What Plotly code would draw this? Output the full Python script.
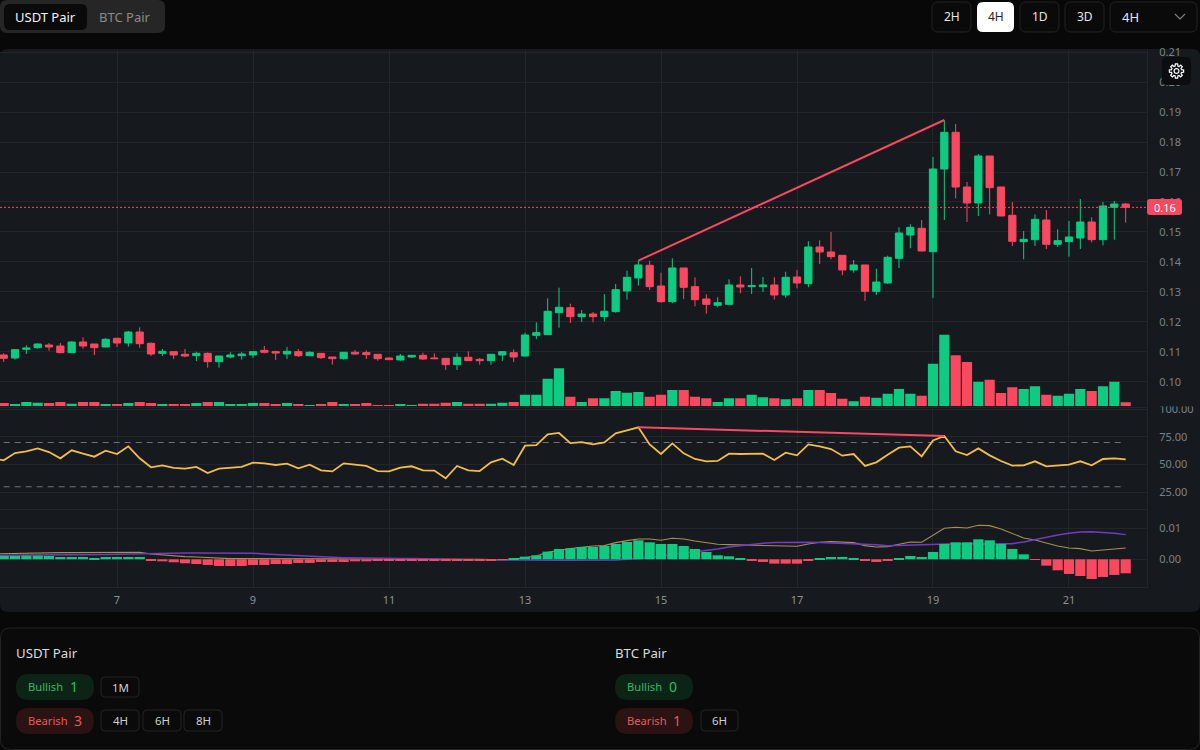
import math

import pandas as pd
import plotly.graph_objects as go
from plotly.subplots import make_subplots


# Velas de 4H: la primera vela visible es la del dia 5 a las 08:00.
OPENS = [
    .10892, .10791, .11081, .11136, .11225, .11192, .10970, .11326, .11259, .11159,
    .11448, .11292, .11659, .11281, .10947, .11003, .10914, .10869, .10947, .10669,
    .10825, .10869, .10892, .11047, .11003, .10925, .11003, .10869, .10947, .10825,
    .10769, .10981, .10970, .10914, .10791, .10725, .10825, .10880, .10791, .10780,
    .10569, .10814, .10747, .10702, .10891, .10969, .10858, .11548, .11570, .12305,
    .12472, .12171, .12260, .12171, .12339, .13029, .13463, .13886, .13196, .12672,
    .13796, .13173, .12762, .12550, .12583, .13229, .13173, .13173, .13229, .12895,
    .13496, .13273, .14498, .14331, .14219, .13730, .13897, .13017, .13296, .14119,
    .14898, .15121, .14342, .17102, .18326, .16501, .15967, .17536, .16501, .15555,
    .14676, .14742, .15399, .14587, .14676, .14798, .15332, .14742, .15822, .15933,
]
CLOSES = [
    .10780, .11070, .11125, .11259, .11159, .10970, .11326, .11192, .11136, .11415,
    .11292, .11659, .11270, .10925, .11014, .10892, .10858, .10947, .10669, .10858,
    .10892, .10925, .11003, .10981, .10958, .11014, .10869, .10981, .10803, .10769,
    .10981, .10925, .10903, .10769, .10736, .10858, .10880, .10758, .10769, .10569,
    .10814, .10702, .10702, .10914, .11003, .10825, .11559, .11637, .12350, .12483,
    .12171, .12260, .12171, .12350, .13073, .13485, .13897, .13173, .12672, .13796,
    .13151, .12739, .12583, .12639, .13229, .13162, .13207, .13229, .12895, .13485,
    .13296, .14498, .14331, .14175, .13730, .13897, .13017, .13329, .14153, .14965,
    .15154, .14364, .17102, .18326, .16501, .15967, .17536, .16479, .15533, .14687,
    .14754, .15421, .14587, .14709, .14832, .15332, .14742, .15867, .15933, .15822,
]
HIGHS = [
    .10947, .11092, .11214, .11281, .11292, .11292, .11348, .11481, .11259, .11459,
    .11470, .11693, .11815, .11315, .11092, .11003, .11092, .11003, .10981, .10858,
    .10981, .10992, .11025, .11192, .11036, .11159, .11092, .11014, .10947, .10825,
    .10992, .11058, .11047, .10925, .10814, .10925, .10880, .10969, .10947, .10780,
    .10947, .11014, .10791, .10925, .11025, .11081, .11637, .11982, .12784, .13140,
    .12605, .12394, .12327, .12917, .13262, .13707, .14041, .14041, .13641, .14119,
    .13796, .13485, .12917, .12817, .13418, .13518, .13796, .13496, .13485, .13674,
    .13730, .14687, .14720, .14998, .14219, .14063, .13897, .13774, .14208, .15154,
    .15254, .15399, .17503, .18738, .18605, .16668, .17603, .17536, .16501, .16000,
    .15032, .15588, .15733, .15088, .15366, .16100, .15488, .16000, .16033, .15967,
]
LOWS = [
    .10658, .10736, .10925, .11103, .11036, .10947, .10958, .11103, .10892, .11147,
    .11159, .11170, .11136, .10858, .10858, .10758, .10814, .10691, .10469, .10469,
    .10780, .10736, .10791, .10947, .10725, .10758, .10825, .10847, .10758, .10569,
    .10736, .10903, .10758, .10702, .10725, .10702, .10791, .10725, .10758, .10391,
    .10391, .10691, .10569, .10569, .10691, .10658, .10836, .11426, .11559, .11804,
    .11960, .11993, .11982, .12016, .12305, .12739, .13207, .13062, .12639, .12617,
    .12762, .12517, .12271, .12483, .12572, .12950, .12928, .12995, .12739, .12806,
    .13117, .13151, .13930, .14086, .13552, .13641, .12695, .12895, .13262, .13796,
    .14453, .14364, .12795, .15399, .16122, .15332, .15533, .15588, .15522, .14531,
    .14086, .14531, .14431, .14498, .14175, .14431, .14653, .14553, .14742, .15310,
]
VOLUMES = [
    3, 2, 4, 3.3, 3, 4, 2.3, 4, 4, 2,
    2, 3, 4, 3, 2, 2, 2, 3, 4, 4,
    2, 2, 3, 3, 2, 3, 2, 1, 2, 4,
    2, 2, 3, 1, 1, 2, 1, 2.3, 2.3, 3.3,
    4, 2.3, 2.3, 2.3, 3.3, 4, 11.3, 11.3, 27.3, 37.7,
    9.3, 4, 7.7, 7.7, 15, 13.3, 14, 9.3, 11.3, 16,
    16, 9.3, 7.7, 4, 7.7, 7.7, 11.3, 8.7, 7.7, 6.7,
    7.7, 16, 16, 13, 7.3, 4.7, 9.3, 8.3, 12.3, 17,
    12.3, 10.3, 42.3, 71.3, 50.7, 44, 24.3, 26.3, 13, 18.7,
    17, 19.7, 11.3, 10.3, 12.3, 17, 15, 19.7, 24.3, 3.7,
]
HISTOGRAM = [
    .00108, .00108, .00118, .00118, .00108, .00075, .00075, .00075, .00043, .00075,
    .00075, .00075, .00075, -.00032, -.00065, -.00097, -.00129, -.00151, -.00183, -.00215,
    -.00215, -.00215, -.00183, -.00183, -.00151, -.00151, -.00118, -.00118, -.00086, -.00086,
    -.00086, -.00065, -.00065, -.00054, -.00054, -.00043, -.00043, -.00043, -.00043, -.00043,
    -.00043, -.00043, -.00043, -.00032, -.00022, .00043, .00086, .00129, .00247, .00333,
    .00355, .00398, .00398, .00430, .00495, .00559, .00613, .00548, .00495, .00495,
    .00430, .00333, .00237, .00129, .00097, .00043, -.00054, -.00086, -.00140, -.00140,
    -.00140, -.00054, .00043, .00075, .00075, .00043, -.00054, -.00086, -.00054, .00043,
    .00108, .00075, .00237, .00495, .00548, .00548, .00645, .00613, .00495, .00333,
    .00161, -.00011, -.00204, -.00355, -.00473, -.00538, -.00634, -.00570, -.00505, -.00452,
]

# Estas series traen un punto mas: empiezan una vela antes, fuera de la vista.
RSI_VALUES = [
    56.0,
    53.9, 60.5, 62.0, 64.7, 61.4, 55.7, 62.9, 59.9, 57.2, 62.6,
    59.6, 66.5, 55.7, 47.6, 49.4, 47.0, 46.4, 47.9, 42.4, 46.4,
    47.0, 47.9, 51.8, 51.2, 49.7, 50.9, 46.7, 50.0, 44.9, 43.9,
    51.2, 50.3, 48.8, 44.2, 43.9, 47.3, 48.5, 44.9, 44.6, 37.6,
    48.8, 44.9, 44.2, 52.1, 55.4, 49.7, 67.1, 67.7, 77.4, 78.6,
    69.5, 70.4, 68.3, 70.1, 78.3, 81.0, 83.7, 68.3, 59.6, 69.2,
    60.2, 55.1, 53.0, 53.3, 59.9, 59.6, 59.6, 59.9, 54.2, 60.8,
    58.4, 68.3, 66.5, 64.1, 58.1, 59.6, 48.8, 52.1, 59.0, 65.3,
    66.5, 57.5, 71.9, 75.9, 62.0, 58.7, 64.7, 58.4, 53.3, 49.1,
    49.4, 53.0, 48.5, 49.1, 50.0, 53.0, 49.4, 55.1, 55.7, 54.8,
]
MACD_VALUES = [
    .00172,
    .00183, .00194, .00204, .00215, .00215, .00215, .00215, .00215, .00215, .00215,
    .00226, .00237, .00226, .00172, .00140, .00108, .00086, .00075, .00054, .00032,
    .00022, .00022, .00022, .00022, .00022, .00022, .00022, .00022, .00022, .00022,
    .00022, .00011, .00011, .00011, .00011, .00011, .00011, .00011, .00011, 0,
    0, 0, 0, -.00011, -.00022, 0, .00054, .00108, .00226, .00290,
    .00344, .00387, .00430, .00441, .00538, .00602, .00656, .00656, .00613, .00677,
    .00656, .00591, .00538, .00484, .00473, .00462, .00452, .00441, .00419, .00419,
    .00419, .00495, .00548, .00570, .00548, .00538, .00441, .00398, .00409, .00495,
    .00559, .00548, .00774, .01000, .01032, .01011, .01097, .01086, .00978, .00839,
    .00688, .00624, .00516, .00430, .00366, .00344, .00269, .00301, .00355, .00366,
]
SIGNAL_VALUES = [
    .00129,
    .00129, .00129, .00129, .00129, .00129, .00140, .00140, .00140, .00151, .00151,
    .00161, .00172, .00183, .00194, .00204, .00204, .00204, .00204, .00204, .00204,
    .00204, .00204, .00194, .00172, .00151, .00129, .00108, .00097, .00086, .00065,
    .00054, .00043, .00032, .00032, .00022, .00022, .00022, .00011, .00011, 0,
    0, -.00011, -.00011, -.00022, -.00022, -.00022, -.00022, -.00032, -.00032, -.00032,
    -.00032, -.00032, -.00032, -.00032, -.00022, 0, .00022, .00054, .00108, .00151,
    .00194, .00237, .00280, .00333, .00398, .00441, .00484, .00516, .00538, .00548,
    .00548, .00548, .00538, .00527, .00516, .00505, .00495, .00473, .00441, .00452,
    .00462, .00484, .00505, .00505, .00505, .00505, .00495, .00495, .00505, .00505,
    .00559, .00634, .00731, .00785, .00839, .00881, .00892, .00871, .00839, .00796,
]

# Divergencias: indices de las velas que une cada linea.
DIVERGENCE_CANDLES = [56, 83]

RSI_BANDS = [70, 30]
LAST_PRICE = 0.1582

PRICE_TICKS = [.10, .11, .12, .13, .14, .15, .16, .17, .18, .19, .20, .21]
RSI_TICKS = [25, 50, 75, 100]
MACD_TICKS = [0, .01]
DAY_TICKS = ["2025-01-07", "2025-01-09", "2025-01-11", "2025-01-13",
             "2025-01-15", "2025-01-17", "2025-01-19", "2025-01-21"]
DAY_LABELS = ["7", "9", "11", "13", "15", "17", "19", "21"]

# Definimos los colores.
PAGE_COLOR = "#080808"
CARD_COLOR = "#161a1f"
PANEL_COLOR = "#0a0a0a"
BORDER_COLOR = "#232323"
GRID_COLOR = "#22262c"
TICK_COLOR = "#7b8188"
GREEN = "#0ecb81"
RED = "#f84960"
GOLD = "#f2bd4c"

WIDTH = 1200
HEIGHT = 750
AXIS_RIGHT = 1147


def px(x):
    return x / WIDTH


def py(y):
    return 1 - y / HEIGHT


def domain(top, bottom):
    return [py(bottom), py(top)]


def round_rect(x0, y0, x1, y1, r, fill, line="rgba(0,0,0,0)", layer="above"):
    # Rectangulo redondeado en pixeles de la pagina.
    path = (
        f"M {px(x0 + r)} {py(y0)} L {px(x1 - r)} {py(y0)} "
        f"Q {px(x1)} {py(y0)} {px(x1)} {py(y0 + r)} L {px(x1)} {py(y1 - r)} "
        f"Q {px(x1)} {py(y1)} {px(x1 - r)} {py(y1)} L {px(x0 + r)} {py(y1)} "
        f"Q {px(x0)} {py(y1)} {px(x0)} {py(y1 - r)} L {px(x0)} {py(y0 + r)} "
        f"Q {px(x0)} {py(y0)} {px(x0 + r)} {py(y0)} Z"
    )
    return dict(type="path", path=path, xref="paper", yref="paper", fillcolor=fill,
                line=dict(color=line, width=1), layer=layer)


def gear(cx, cy):
    # Icono de ajustes, dibujado con un poligono de 8 dientes.
    puntos = []
    for k in range(8):
        centro = k * math.pi / 4
        for da, r in [(-0.27, 5.2), (-0.16, 7.2), (0.16, 7.2), (0.27, 5.2)]:
            a = centro + da
            puntos.append((cx + r * math.cos(a), cy + r * math.sin(a)))
    path = "M " + " L ".join(f"{px(x)} {py(y)}" for x, y in puntos) + " Z "
    circulo = [(cx + 2.4 * math.cos(k * math.pi / 8), cy + 2.4 * math.sin(k * math.pi / 8))
               for k in range(16)]
    path += "M " + " L ".join(f"{px(x)} {py(y)}" for x, y in circulo) + " Z"
    return dict(type="path", path=path, xref="paper", yref="paper",
                line=dict(color="#ffffff", width=1.2), layer="above")


def label(x, y, text, size=12, color="#d8d8d8", anchor="center"):
    return dict(x=px(x), y=py(y), xref="paper", yref="paper", text=text, showarrow=False,
                xanchor=anchor, yanchor="middle", font=dict(size=size, color=color))


line_times = pd.date_range("2025-01-05 04:00", periods=len(RSI_VALUES), freq="4h")
times = line_times[1:]

volume_colors = [GREEN if c >= o else RED for o, c in zip(OPENS, CLOSES)]
histogram_colors = [GREEN if v >= 0 else RED for v in HISTOGRAM]

fig = make_subplots(
    rows=3, cols=1,
    shared_xaxes=True,
    vertical_spacing=0,
    specs=[[{"secondary_y": True}], [{}], [{"secondary_y": True}]]
)

fig.add_trace(
    go.Candlestick(
        x=times, open=OPENS, high=HIGHS, low=LOWS, close=CLOSES,
        increasing=dict(line=dict(color=GREEN, width=1), fillcolor=GREEN),
        decreasing=dict(line=dict(color=RED, width=1), fillcolor=RED),
        whiskerwidth=0
    ), row=1, col=1
)

fig.add_trace(
    go.Scatter(
        x=[times[i] for i in DIVERGENCE_CANDLES],
        y=[HIGHS[i] for i in DIVERGENCE_CANDLES],
        mode="lines", line=dict(color=RED, width=2)
    ), row=1, col=1
)

fig.add_trace(
    go.Bar(x=times, y=VOLUMES, marker=dict(color=volume_colors, line_width=0)),
    row=1, col=1, secondary_y=True
)

for banda in RSI_BANDS:
    fig.add_trace(
        go.Scatter(
            x=[times[0], times[-1]], y=[banda, banda], mode="lines",
            line=dict(color="#6e737b", width=1.2, dash="6px,5px")
        ), row=2, col=1
    )

fig.add_trace(
    go.Scatter(x=line_times, y=RSI_VALUES, mode="lines", line=dict(color=GOLD, width=1.8)),
    row=2, col=1
)

fig.add_trace(
    go.Scatter(
        x=[times[i] for i in DIVERGENCE_CANDLES],
        y=[RSI_VALUES[i + 1] for i in DIVERGENCE_CANDLES],
        mode="lines", line=dict(color=RED, width=2)
    ), row=2, col=1
)

fig.add_trace(
    go.Scatter(x=line_times, y=MACD_VALUES, mode="lines", line=dict(color="#a98f50", width=1.1)),
    row=3, col=1
)

fig.add_trace(
    go.Scatter(x=line_times, y=SIGNAL_VALUES, mode="lines", line=dict(color="#6f3cc3", width=1.5)),
    row=3, col=1
)

fig.add_trace(
    go.Bar(x=times, y=HISTOGRAM, marker=dict(color=histogram_colors, line_width=0)),
    row=3, col=1, secondary_y=True
)

fig.update_xaxes(
    domain=[0, px(AXIS_RIGHT)],
    range=["2025-01-05 06:42", "2025-01-22 03:32"],
    rangeslider_visible=False,
    tickvals=DAY_TICKS,
    ticktext=DAY_LABELS,
    gridcolor=GRID_COLOR,
    showline=True,
    linecolor=GRID_COLOR,
    zeroline=False,
    ticks="outside",
    ticklen=3,
    tickcolor="rgba(0,0,0,0)",
    tickfont=dict(size=11, color="#8b9097")
)

ejes_y = dict(
    side="right",
    gridcolor=GRID_COLOR,
    showline=True,
    linecolor=GRID_COLOR,
    zeroline=False,
    ticks="outside",
    ticklen=9,
    tickcolor="rgba(0,0,0,0)",
    tickformat=".2f",
    tickfont=dict(size=11, color=TICK_COLOR)
)

fig.update_layout(
    yaxis=dict(domain=domain(50, 406.7), range=[.09165, .21075], tickvals=PRICE_TICKS, **ejes_y),
    yaxis2=dict(range=[-0.7, 356.0], visible=False, overlaying="y"),
    yaxis3=dict(domain=domain(406.7, 509), range=[9.91, 102.35], tickvals=RSI_TICKS, **ejes_y),
    yaxis4=dict(domain=domain(509, 587), range=[-.008935, .016226], tickvals=MACD_TICKS, **ejes_y),
    yaxis5=dict(range=[-.008935, .016226], visible=False, overlaying="y4"),
)

fig.add_hline(y=LAST_PRICE, row=1, col=1, line=dict(color=RED, width=1, dash="2px,2px"))

shapes = [
    # Tarjetas de fondo.
    round_rect(0, 49, 1200, 612, 8, CARD_COLOR, layer="below"),
    round_rect(0.5, 628, 1199.5, 749.5, 10, PANEL_COLOR, BORDER_COLOR, layer="below"),
    # Pestañas.
    round_rect(0, 0, 165, 33, 7, "#262626"),
    round_rect(4, 4, 87, 30, 6, PANEL_COLOR),
    # Botones de temporalidad.
    round_rect(932, 2, 971, 32, 6, PANEL_COLOR, BORDER_COLOR),
    round_rect(977, 2, 1014, 32, 6, "#ffffff"),
    round_rect(1020, 2, 1059, 32, 6, PANEL_COLOR, BORDER_COLOR),
    round_rect(1065, 2, 1104, 32, 6, PANEL_COLOR, BORDER_COLOR),
    round_rect(1110, 2, 1197, 32, 6, PANEL_COLOR, BORDER_COLOR),
    dict(type="path", path=f"M {px(1175)} {py(14)} L {px(1180)} {py(19)} L {px(1185)} {py(14)}",
         xref="paper", yref="paper", line=dict(color="#808080", width=1.2), layer="above"),
    # Boton de ajustes.
    round_rect(1162, 57, 1191, 85, 5, "#0c0d10"),
    gear(1176.5, 71),
    # La etiqueta 100.00 queda cortada por el panel de arriba.
    dict(type="rect", x0=px(1150), x1=px(1196), y0=py(406.5), y1=py(400), xref="paper", yref="paper",
         fillcolor=CARD_COLOR, line_width=0, layer="above"),
    # Precio actual.
    round_rect(1147, 199, 1182, 215, 3, RED),
    # Resumen inferior.
    round_rect(16, 674, 94, 700, 13, "#0b2415"),
    round_rect(16, 708, 94, 734, 13, "#2b1213"),
    round_rect(101, 677, 139, 697, 4, PANEL_COLOR, BORDER_COLOR),
    round_rect(101, 710, 139, 731, 4, PANEL_COLOR, BORDER_COLOR),
    round_rect(143, 710, 181, 731, 4, PANEL_COLOR, BORDER_COLOR),
    round_rect(184, 710, 222, 731, 4, PANEL_COLOR, BORDER_COLOR),
    round_rect(615, 674, 693, 700, 13, "#0b2415"),
    round_rect(615, 708, 693, 734, 13, "#2b1213"),
    round_rect(701, 710, 738, 731, 4, PANEL_COLOR, BORDER_COLOR),
]
for forma in shapes:
    fig.add_shape(**forma)

BULL_TEXT = "#35b96b"
BEAR_TEXT = "#e25c5c"

textos = [
    label(45.5, 17, "USDT Pair", 13, "#f2f2f2"),
    label(125, 17, "BTC Pair", 13, "#8a8a8a"),
    label(951.5, 17, "2H", 12, "#e6e6e6"),
    label(995.5, 17, "4H", 12, "#222222"),
    label(1039.5, 17, "1D", 12, "#e6e6e6"),
    label(1084.5, 17, "3D", 12, "#e6e6e6"),
    label(1120, 17, "4H", 13, "#e6e6e6", "left"),
    label(1164.5, 207, "0.16", 11, "#ffffff"),
    label(14, 653, "USDT Pair", 13.2, "#dcdcdc", "left"),
    label(25.5, 686, "Bullish", 11.2, BULL_TEXT, "left"),
    label(73.7, 686, "1", 14, BULL_TEXT),
    label(25.5, 720, "Bearish", 11.2, BEAR_TEXT, "left"),
    label(78.3, 720, "3", 14, BEAR_TEXT),
    label(120, 687, "1M", 11.5, "#cfcfcf"),
    label(120, 720.5, "4H", 11.5, "#cfcfcf"),
    label(162, 720.5, "6H", 11.5, "#cfcfcf"),
    label(203, 720.5, "8H", 11.5, "#cfcfcf"),
    label(613, 653, "BTC Pair", 13.2, "#dcdcdc", "left"),
    label(624.5, 686, "Bullish", 11.2, BULL_TEXT, "left"),
    label(673, 686, "0", 14, BULL_TEXT),
    label(624.5, 720, "Bearish", 11.2, BEAR_TEXT, "left"),
    label(677, 720, "1", 14, BEAR_TEXT),
    label(719.5, 720.5, "6H", 11.5, "#cfcfcf"),
]

fig.update_layout(
    annotations=textos,
    showlegend=False,
    bargap=0.1,
    boxgap=0.2,
    boxgroupgap=0.2,
    width=WIDTH,
    height=HEIGHT,
    margin=dict(l=0, r=0, t=0, b=0, autoexpand=False),
    font_family="Noto Sans",
    paper_bgcolor=PAGE_COLOR,
    plot_bgcolor="rgba(0,0,0,0)",
)

fig.write_html(
    "out.html",
    config={"displayModeBar": False},
    post_script="document.body.style.margin='0';document.body.style.overflow='hidden';"
                "document.body.style.background='#080808';"
)
